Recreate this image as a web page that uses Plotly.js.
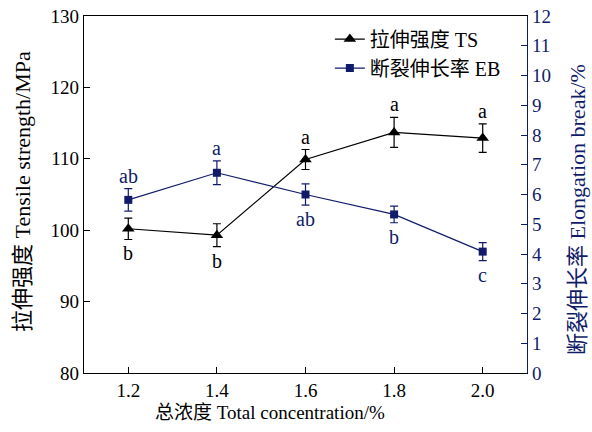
<!DOCTYPE html>
<html>
<head>
<meta charset="utf-8">
<script src="https://cdn.plot.ly/plotly-3.0.1.min.js"></script>
<style>html,body{margin:0;padding:0;background:#fff}#chart{width:592px;height:432px}</style>
</head>
<body>
<div id="chart"></div>
<script>
var concentration = [1.2, 1.4, 1.6, 1.8, 2.0];
var tensileStrength = [100.2, 99.3, 109.9, 113.7, 112.9];
var tensileErr = [1.5, 1.6, 1.4, 2.1, 2.0];
var tensileLetters = ['b', 'b', 'a', 'a', 'a'];
var tensileLetterSide = ['below', 'below', 'above', 'above', 'above'];
var elongation = [5.82, 6.73, 6.0, 5.33, 4.08];
var elongationErr = [0.38, 0.4, 0.36, 0.28, 0.3];
var elongationLetters = ['ab', 'a', 'ab', 'b', 'c'];
var elongationLetterSide = ['above', 'above', 'below', 'below', 'below'];
var xTickVals = [1.2, 1.4, 1.6, 1.8, 2.0];
var xTickText = ['1.2', '1.4', '1.6', '1.8', '2.0'];
var xTitle = '总浓度 Total concentration/%';
var yTitle = '拉伸强度 Tensile strength/MPa';
var y2Title = '断裂伸长率 Elongation break/%';

var navy = '#101c6a';
var font = 'Liberation Serif, Times New Roman, Noto Sans CJK SC, serif';

var traces = [
  {
    x: concentration, y: tensileStrength, name: '拉伸强度 TS', type: 'scatter', mode: 'lines+markers',
    line: {color: '#000', width: 1.2},
    marker: {symbol: 'triangle-up', size: 11, color: '#000'},
    error_y: {type: 'data', array: tensileErr, visible: true, color: '#000', thickness: 1.2, width: 4},
    yaxis: 'y'
  },
  {
    x: concentration, y: elongation, name: '断裂伸长率 EB', type: 'scatter', mode: 'lines+markers',
    line: {color: navy, width: 1.2},
    marker: {symbol: 'square', size: 8, color: navy},
    error_y: {type: 'data', array: elongationErr, visible: true, color: navy, thickness: 1.2, width: 4},
    yaxis: 'y2'
  }
];

var annotations = [];
concentration.forEach(function (c, i) {
  var up = tensileLetterSide[i] === 'above';
  annotations.push({
    x: c, y: up ? tensileStrength[i] + tensileErr[i] : tensileStrength[i] - tensileErr[i],
    xref: 'x', yref: 'y', text: tensileLetters[i], showarrow: false,
    yanchor: up ? 'bottom' : 'top', yshift: up ? 0 : -1,
    font: {family: font, size: 20, color: '#000'}
  });
  var up2 = elongationLetterSide[i] === 'above';
  annotations.push({
    x: c, y: up2 ? elongation[i] + elongationErr[i] : elongation[i] - elongationErr[i],
    xref: 'x', yref: 'y2', text: elongationLetters[i], showarrow: false,
    yanchor: up2 ? 'bottom' : 'top', yshift: up2 ? 0 : -1,
    font: {family: font, size: 20, color: navy}
  });
});

// axis titles placed as text in paper coordinates (plot area 84..527 x 16..373 px)
annotations.push({
  xref: 'paper', yref: 'paper', x: (270 - 84) / 443, y: (373 - 412) / 357,
  xanchor: 'center', yanchor: 'middle', showarrow: false, text: xTitle,
  font: {family: font, size: 19, color: '#000'}
});
annotations.push({
  xref: 'paper', yref: 'paper', x: (22 - 84) / 443, y: (373 - 192) / 357,
  xanchor: 'center', yanchor: 'middle', showarrow: false, text: yTitle, textangle: -90,
  font: {family: font, size: 22, color: '#000'}
});
annotations.push({
  xref: 'paper', yref: 'paper', x: (577 - 84) / 443, y: (373 - 210) / 357,
  xanchor: 'center', yanchor: 'middle', showarrow: false, text: y2Title, textangle: -90,
  font: {family: font, size: 22, color: navy}
});

var layout = {
  width: 592, height: 432,
  margin: {l: 84, r: 65, t: 16, b: 59},
  paper_bgcolor: '#fff', plot_bgcolor: '#fff',
  font: {family: font, size: 19, color: '#000'},
  showlegend: true,
  legend: {x: 0.555, y: 0.99, xanchor: 'left', yanchor: 'top', bgcolor: 'rgba(0,0,0,0)',
           font: {family: font, size: 20}, tracegroupgap: 0, itemwidth: 30},
  xaxis: {
    range: [1.1, 2.1], tickvals: xTickVals, ticktext: xTickText,
    ticks: 'inside', ticklen: 6, tickwidth: 1, tickcolor: '#000',
    showline: true, linecolor: '#000', linewidth: 1.2, mirror: true,
    showgrid: false, zeroline: false,
    tickfont: {family: font, size: 19}
  },
  yaxis: {
    range: [80, 130], tickvals: [80, 90, 100, 110, 120, 130],
    ticks: 'inside', ticklen: 6, tickwidth: 1, tickcolor: '#000',
    showline: true, linecolor: '#000', linewidth: 1.2,
    showgrid: false, zeroline: false,
    tickfont: {family: font, size: 19}
  },
  yaxis2: {
    range: [0, 12], tickvals: [0,1,2,3,4,5,6,7,8,9,10,11,12],
    overlaying: 'y', side: 'right',
    ticks: 'inside', ticklen: 6, tickwidth: 1, tickcolor: navy,
    showline: true, linecolor: navy, linewidth: 1.2,
    showgrid: false, zeroline: false,
    tickfont: {family: font, size: 19, color: navy}
  },
  annotations: annotations
};

Plotly.newPlot('chart', traces, layout, {staticPlot: true, displayModeBar: false});
</script>
</body>
</html>
